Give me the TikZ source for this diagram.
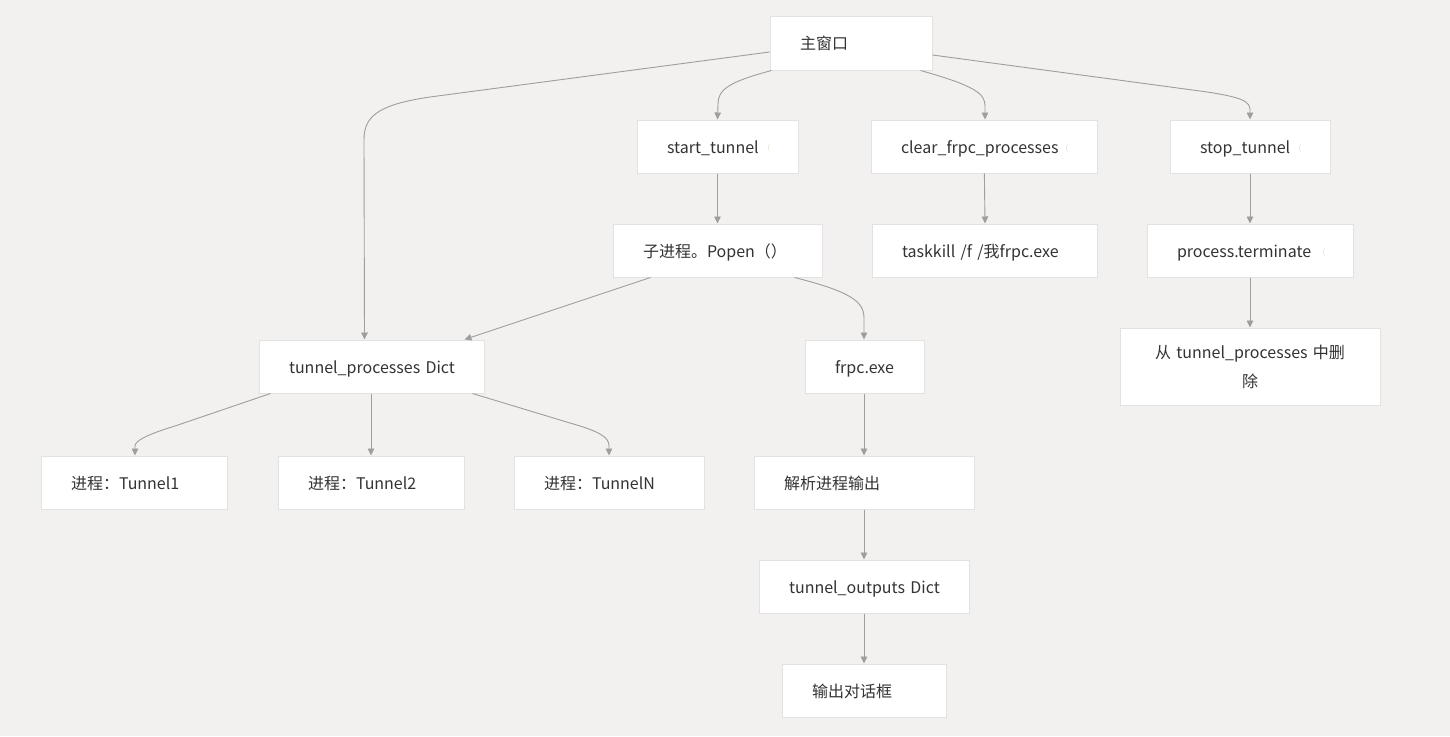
\documentclass[tikz,border=0pt]{standalone}
\usepackage{fontspec}
\setmainfont{Noto Sans CJK SC}
\usetikzlibrary{arrows.meta,calc}
\definecolor{bgc}{HTML}{F2F1EF}
\definecolor{boxline}{HTML}{E2E2E2}
\definecolor{edgec}{HTML}{9E9E9E}
\definecolor{txt}{HTML}{333333}
\definecolor{mark}{HTML}{EDD9C6}
\begin{document}
\begin{tikzpicture}[x=1pt,y=-1pt,
  basebox/.style={draw=boxline,line width=1pt,fill=white,rectangle,text=txt,inner ysep=0pt},
  bx/.style 2 args={basebox,minimum height=#2,
     text width=#1-60pt,inner xsep=30pt,align=left,
     text height=13.5pt,text depth=0.5pt,
     execute at begin node={\hbox\bgroup},execute at end node={\egroup},
     font=\fontsize{16}{20}\selectfont},
  bigbox/.style 2 args={basebox,minimum height=#2,text width=#1-60pt,inner xsep=30pt,
     align=center,font=\fontsize{16}{25}\selectfont},
  edge/.style={draw=edgec,line width=0.9pt,-{Triangle[length=7pt,width=6.5pt]}},
  mk/.style={text=mark,font=\fontsize{8}{10}\selectfont,inner sep=0pt}]
\fill[bgc] (0,0) rectangle (1450,736);
\useasboundingbox (0,0) rectangle (1450,736);

\node[bx={162pt}{54pt}] (main) at (851,43) {主窗口};
\node[bx={161pt}{53pt}] (start) at (717.5,146.5) {start\_tunnel};
\node[bx={226pt}{53pt}] (clear) at (984,146.5) {clear\_frpc\_processes};
\node[bx={160pt}{53pt}] (stop) at (1250,146.5) {stop\_tunnel};
\node[bx={209pt}{53pt}] (popen) at (717.5,250.5) {子进程。Popen（）};
\node[bx={225pt}{53pt}] (kill) at (984.5,250.5) {taskkill /f /我frpc.exe};
\node[bx={206pt}{53pt}] (term) at (1250,250.5) {process.terminate};
\node[bx={225pt}{53pt}] (tp) at (371.5,366.5) {tunnel\_processes Dict};
\node[bx={119pt}{53pt}] (frpc) at (864.5,366.5) {frpc.exe};
\node[bigbox={260pt}{77pt}] (del) at (1250,366.5) {\vspace*{4pt}从 tunnel\_processes 中删\\除};
\node[bx={186pt}{53pt}] (t1) at (134,482.5) {进程：Tunnel1};
\node[bx={186pt}{53pt}] (t2) at (371,482.5) {进程：Tunnel2};
\node[bx={190pt}{53pt}] (tn) at (609,482.5) {进程：TunnelN};
\node[bx={220pt}{53pt}] (parse) at (864,482.5) {解析进程输出};
\node[bx={210pt}{53pt}] (outs) at (864,586.5) {tunnel\_outputs Dict};
\node[bx={164pt}{53pt}] (dlg) at (864,690.5) {输出对话框};

\node[mk] (m1) at (769,148) {(};
\node[mk] (m2) at (1067,148) {(};
\node[mk] (m3) at (1300,148) {(};
\node[mk] (m4) at (1324,252) {(};

% edges
\draw[edge] ($(main.west)+(0,9)$) -- (430,97) .. controls (375,105) and (364,118) .. (364,140) -- ($(tp.north)+(-7,0)$);
\draw[edge] ($(main.south west)+(2,0)$) .. controls (728,82) and (718,90) .. (718,104) -- (start.north);
\draw[edge] ($(main.south east)+(-12,0)$) .. controls (976,86) and (985,94) .. (985,106) -- ($(clear.north)+(1,0)$);
\draw[edge] ($(main.east)+(0,12)$) -- (1200,91) .. controls (1244,97) and (1250,102) .. (1250,110) -- (stop.north);
\draw[edge] (start) -- (popen);
\draw[edge] (clear) -- ($(kill.north)+(0.5,0)$);
\draw[edge] (stop) -- (term);
\draw[edge] (term) -- (del);
\draw[edge] ($(popen.south west)+(38,0)$) -- ($(tp.north east)+(-20,0)$);
\draw[edge] ($(popen.south east)+(-28,0)$) .. controls (852,292) and (864,302) .. (864,318) -- ($(frpc.north)+(-0.5,0)$);
\draw[edge] ($(tp.south west)+(12,0)$) -- (175,426) .. controls (142,436) and (135,442) .. (135,446) -- ($(t1.north)+(1,0)$);
\draw[edge] (tp.south -| t2.north) -- (t2.north);
\draw[edge] ($(tp.south east)+(-12,0)$) -- (570,423) .. controls (602,432) and (609,438) .. (609,446) -- (tn.north);
\draw[edge] ($(frpc.south)+(-0.5,0)$) -- (parse.north);
\draw[edge] (parse) -- (outs);
\draw[edge] (outs) -- (dlg);
\end{tikzpicture}
\end{document}
